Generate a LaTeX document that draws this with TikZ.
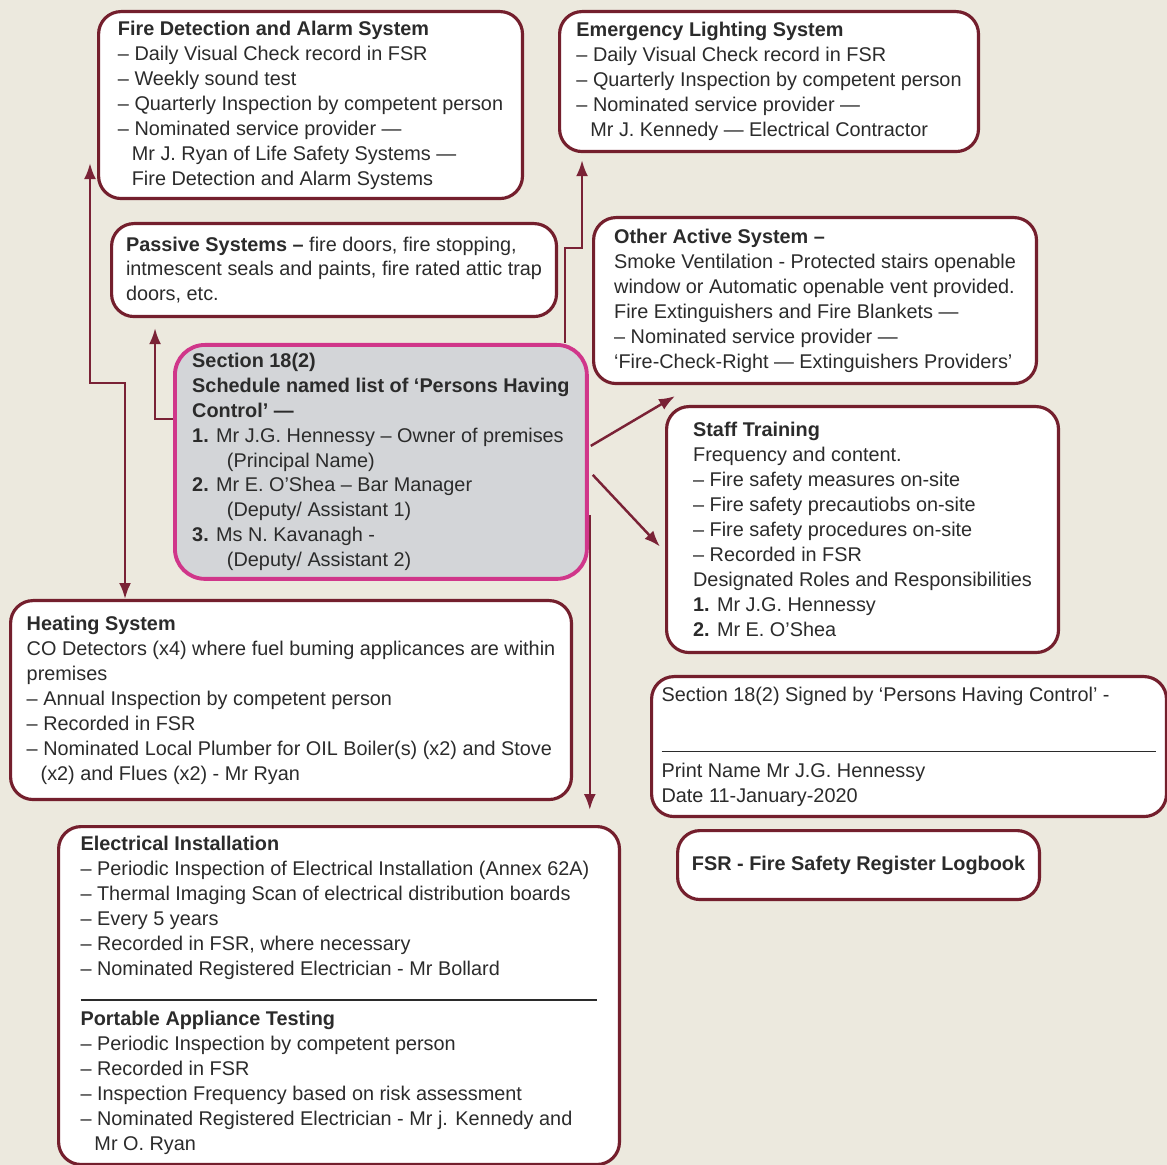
\documentclass[tikz,border=0pt]{standalone}
\usepackage{fontspec}
\setmainfont{Liberation Sans}
\usetikzlibrary{arrows.meta,positioning,calc}
\definecolor{pagebg}{HTML}{ECE9DE}
\definecolor{boxline}{HTML}{741F2D}
\definecolor{flowline}{HTML}{7A2236}
\definecolor{keyline}{HTML}{D0368A}
\definecolor{keyfill}{HTML}{D3D5D8}
\definecolor{bodytext}{HTML}{2B2B2B}
\newcommand{\indline}{\hspace*{0.7em}}
\newcommand{\indnum}{\hspace*{1.75em}}
\tikzset{
  infobox/.style={
    rectangle,
    draw=boxline,
    fill=white,
    line width=1.8pt,
    rounded corners=0.45cm,
    anchor=north west,
    align=left,
    inner sep=2pt,
    text=bodytext,
    font=\fontsize{11.3}{14.2}\selectfont
  },
  keybox/.style={
    infobox,
    draw=keyline,
    fill=keyfill,
    line width=2.2pt,
    rounded corners=0.6cm
  },
  flow/.style={draw=flowline,line width=1.4pt,-{Latex[length=3.2mm,width=2.4mm]}},
  flowboth/.style={flow,{Latex[length=3.2mm,width=2.4mm]}-{Latex[length=3.2mm,width=2.4mm]}}
}

\begin{document}
\begin{tikzpicture}[x=0.02cm,y=-0.02cm]
\fill[pagebg] (0,0) rectangle (1167,1165);
\useasboundingbox (0,0) rectangle (1167,1165);

\node[infobox, minimum width=8.48cm, minimum height=3.74cm] (fda) at (97,10) {\textbf{Fire Detection and Alarm System}\\
– Daily Visual Check record in FSR\\
– Weekly sound test\\
– Quarterly Inspection by competent person\\
– Nominated service provider —\\
\indline Mr J. Ryan of Life Safety Systems —\\
\indline Fire Detection and Alarm Systems};

\node[infobox, minimum width=8.38cm, minimum height=2.8cm] (els) at (558,10) {\textbf{Emergency Lighting System}\\
– Daily Visual Check record in FSR\\
– Quarterly Inspection by competent person\\
– Nominated service provider —\\
\indline Mr J. Kennedy — Electrical Contractor};

\node[infobox, minimum width=8.9cm, minimum height=1.86cm] (pas) at (110,222) {\textbf{Passive Systems –} fire doors, fire stopping,\\
intmescent seals and paints, fire rated attic trap\\
doors, etc.};

\node[infobox, minimum width=8.86cm, minimum height=3.32cm] (oas) at (592,216) {\textbf{Other Active System –}\\
Smoke Ventilation - Protected stairs openable\\
window or Automatic openable vent provided.\\
Fire Extinguishers and Fire Blankets —\\
– Nominated service provider —\\
‘Fire-Check-Right — Extinguishers Providers’};

\node[keybox, minimum width=8.24cm, minimum height=4.68cm] (sec) at (173,343) {\textbf{Section 18(2)}\\
\textbf{Schedule named list of ‘Persons Having}\\
\textbf{Control’ —}\\
\textbf{1.} Mr J.G. Hennessy – Owner of premises\\
\indnum(Principal Name)\\
\textbf{2.} Mr E. O’Shea – Bar Manager\\
\indnum(Deputy/ Assistant 1)\\
\textbf{3.} Ms N. Kavanagh -\\
\indnum(Deputy/ Assistant 2)};

\node[infobox, minimum width=7.84cm, minimum height=4.92cm] (stt) at (665,405) {\textbf{Staff Training}\\
Frequency and content.\\
– Fire safety measures on-site\\
– Fire safety precautiobs on-site\\
– Fire safety procedures on-site\\
– Recorded in FSR\\
Designated Roles and Responsibilities\\
\textbf{1.} Mr J.G. Hennessy\\
\textbf{2.} Mr E. O’Shea};

\node[infobox, minimum width=11.22cm, minimum height=3.98cm] (hts) at (9,599) {\textbf{Heating System}\\
CO Detectors (x4) where fuel buming applicances are within\\
premises\\
– Annual Inspection by competent person\\
– Recorded in FSR\\
– Nominated Local Plumber for OIL Boiler(s) (x2) and Stove\\
\indline(x2) and Flues (x2) - Mr Ryan};

\node[infobox, minimum width=10.3cm, minimum height=2.8cm] (sig) at (650,675) {Section 18(2) Signed by ‘Persons Having Control’ -\\[14.7pt]
\rule{9.9cm}{0.7pt}\\
Print Name Mr J.G. Hennessy\\
Date 11-January-2020};

\node[infobox, minimum width=7.24cm, minimum height=1.38cm] (fsr) at (676,829) {\textbf{FSR - Fire Safety Register Logbook}};

\node[infobox, minimum width=11.22cm, minimum height=6.76cm] (ele) at (57,825) {\textbf{Electrical Installation}\\
– Periodic Inspection of Electrical Installation (Annex 62A)\\
– Thermal Imaging Scan of electrical distribution boards\\
– Every 5 years\\
– Recorded in FSR, where necessary\\
– Nominated Registered Electrician - Mr Bollard\\
\rule{10.34cm}{0.9pt}\\
\textbf{Portable Appliance Testing}\\
– Periodic Inspection by competent person\\
– Recorded in FSR\\
– Inspection Frequency based on risk assessment\\
– Nominated Registered Electrician - Mr j. Kennedy and\\
\indline Mr O. Ryan};

\draw[flow] ([shift={(0,-43)}]sec.west) -| ([shift={(-179,10)}]pas.south);
\draw[flowboth] ([shift={(-7,-37)}]fda.south west) -- ++(0,220) -| ([shift={(-166,0)}]hts.north);
\draw[flow] ([shift={(184,0)}]sec.north) -- ++(0,-95) -| ([shift={(-187,7)}]els.south);
\draw[flow] ([shift={(2,-16)}]sec.east) -- ([shift={(-140,11)}]oas.south);
\draw[flow] ([shift={(4,13)}]sec.east) -- ([shift={(-5,17)}]stt.west);
\draw[flow, shorten >=0.3cm] ([shift={(1,53)}]sec.east) coordinate (drop) -- (drop |- ele.north);
\end{tikzpicture}
\end{document}
